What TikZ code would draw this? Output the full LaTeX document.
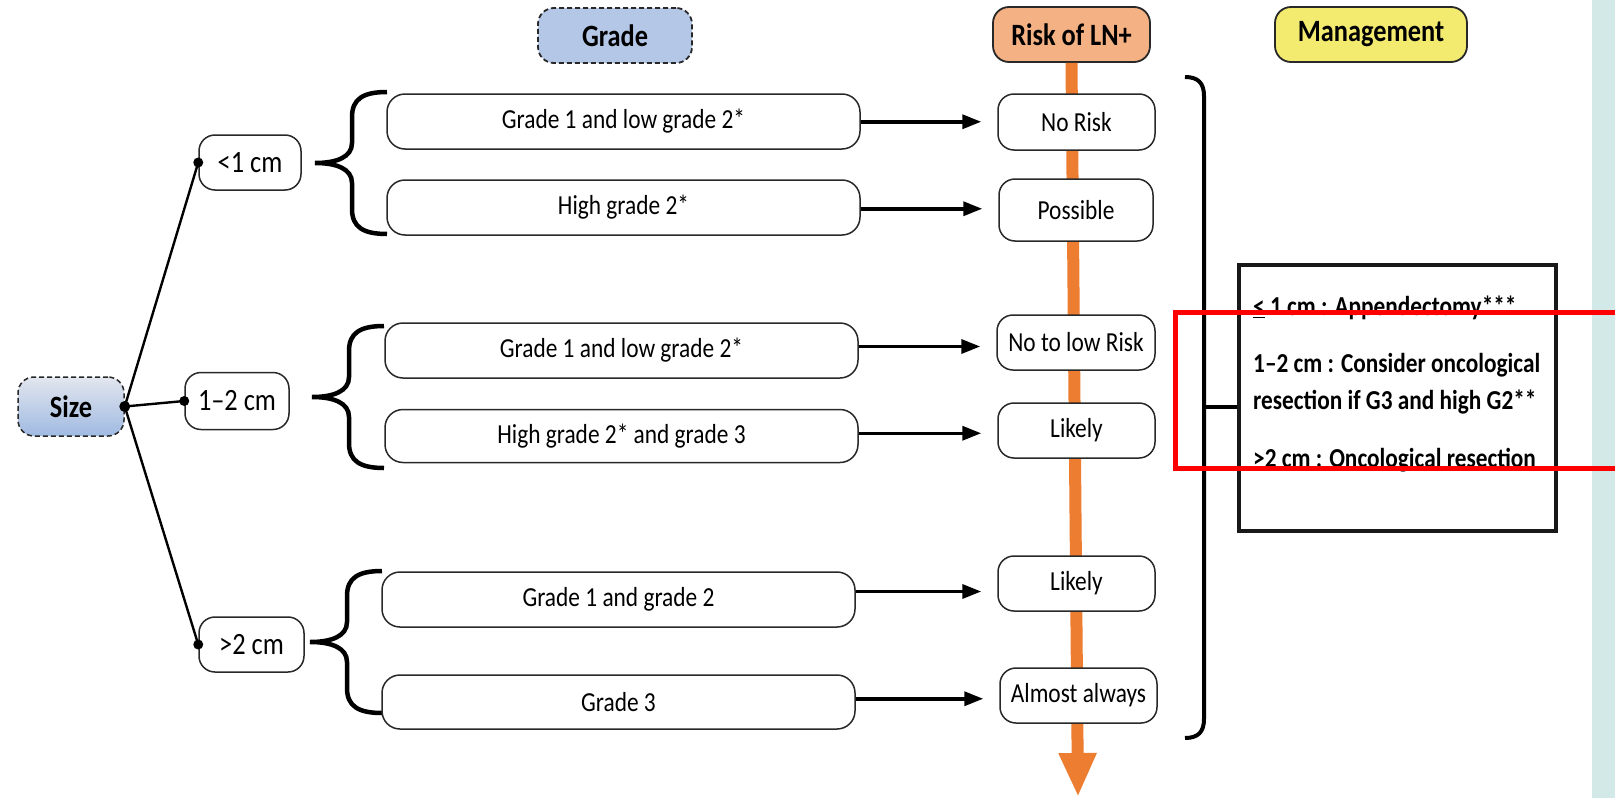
\documentclass[tikz,border=0pt]{standalone}
\usepackage{fontspec}
\setmainfont{Carlito}[FakeStretch=0.85]
\usetikzlibrary{arrows.meta,calc}
\definecolor{gradefill}{RGB}{180,199,231}
\definecolor{riskfill}{RGB}{244,177,131}
\definecolor{mgmtfill}{RGB}{242,235,112}
\definecolor{lnorange}{RGB}{237,125,49}
\definecolor{tealbg}{RGB}{211,233,231}
\definecolor{sizetop}{RGB}{226,230,238}
\definecolor{sizebot}{RGB}{160,186,226}
\definecolor{edge}{RGB}{40,40,40}
\begin{document}
\begin{tikzpicture}[x=1pt,y=-1pt,
  every node/.style={inner sep=0pt, text=black},
  header/.style={draw=edge, line width=1.8pt, rounded corners=16pt, minimum height=55pt,
    font=\fontsize{31}{36}\selectfont\bfseries},
  dashedborder/.style={dash pattern=on 5pt off 3pt},
  sizebox/.style={draw=edge, line width=1.5pt, rounded corners=16pt, minimum height=55pt,
    fill=white, font=\fontsize{31}{36}\selectfont},
  gradebox/.style={draw=edge, line width=1.5pt, rounded corners=18pt, minimum width=473pt,
    minimum height=55pt, fill=white, font=\fontsize{27.5}{32}\selectfont},
  riskbox/.style={draw=edge, line width=1.5pt, rounded corners=16pt, minimum width=157pt,
    minimum height=56pt, fill=white, font=\fontsize{27.5}{32}\selectfont},
  mtext/.style={anchor=mid west, font=\fontsize{27.4}{32}\selectfont\bfseries},
  link/.style={line width=2.4pt},
  arr/.style={line width=3.5pt, -{Triangle[length=19pt,width=14pt]}, shorten >=16pt},
  lnarrow/.style={line width=12pt, draw=lnorange, -{Triangle[length=44pt,width=35pt]}},
  pics/lbrace/.style={code={
    \draw[line width=4.5pt] (72,-71) .. controls (48,-71) and (37,-64) .. (37,-46)
      -- (37,-20) .. controls (37,-6) and (22,0) .. (0,0)
      .. controls (22,0) and (37,6) .. (37,20) -- (37,46)
      .. controls (37,64) and (48,71) .. (72,71);
  }}
]
\useasboundingbox (0,0) rectangle (1615,798);
\fill[white] (0,0) rectangle (1615,798);
\fill[tealbg] (1592,0) rectangle (1615,798);

% headers
\node[header, dashedborder, fill=gradefill, minimum width=154pt] (gh) at (615,35.5) {Grade};
\node[header, fill=riskfill, minimum width=157pt] (rh) at (1071.5,34.5) {Risk of LN+};
\node[header, fill=mgmtfill, minimum width=192pt] (mh) at (1371,34.5) {Management};

% risk axis
\coordinate (rend) at (1078,797);
\draw[lnarrow] (rh.south) -- (rend);

% size column
\node[sizebox, dashedborder, top color=sizetop, bottom color=sizebot, minimum width=106pt,
  minimum height=59pt, font=\fontsize{31}{36}\selectfont\bfseries] (size) at (71,406.5) {Size};
\node[sizebox, minimum width=102pt] (s1) at (250,162.5) {<1 cm};
\node[sizebox, minimum width=104pt, minimum height=57pt] (s2) at (237,401) {1–2 cm};
\node[sizebox, minimum width=105pt] (s3) at (251.5,644.5) {>2 cm};

\draw[link] (size.east) -- (s1.west);
\draw[link] (size.east) -- (s2.west);
\draw[link] (size.east) -- (s3.west);
\fill (size.east) circle (5.5pt);
\fill (s1.west) circle (5pt);
\fill (s2.west) circle (5pt);
\fill (s3.west) circle (5pt);

% braces
\pic at (315,163) {lbrace};
\pic at (312,397) {lbrace};
\pic at (310,642) {lbrace};

% grade boxes
\node[gradebox] (g1) at (623.5,121.5) {Grade 1 and low grade 2*};
\node[gradebox] (g2) at (623.5,207.5) {High grade 2*};
\node[gradebox] (g3) at (621.5,350.5) {Grade 1 and low grade 2*};
\node[gradebox, minimum height=53pt] (g4) at (621.5,436) {High grade 2* and grade 3};
\node[gradebox] (g5) at (618.5,599.5) {Grade 1 and grade 2};
\node[gradebox, minimum height=54pt] (g6) at (618.5,702) {Grade 3};

% risk boxes
\node[riskbox] (r1) at (1076.5,122) {No Risk};
\node[riskbox, minimum width=154pt, minimum height=62pt] (r2) at (1076,210) {Possible};
\node[riskbox, minimum width=158pt, minimum height=55pt] (r3) at (1076,342.5) {No to low Risk};
\node[riskbox, minimum height=55pt] (r4) at (1076.5,430.5) {Likely};
\node[riskbox, minimum height=55pt] (r5) at (1076.5,583.5) {Likely};
\node[riskbox, minimum height=55pt] (r6) at (1078.5,695.5) {Almost always};

% arrows
\foreach \i in {1,...,6}{
  \coordinate (mid\i) at ($(g\i.center)!0.5!(r\i.center)$);
  \draw[arr] (g\i.east |- mid\i) -- (r\i.west |- mid\i);
}

% management
\node[draw=black!90, line width=4pt, minimum width=317pt, minimum height=266pt] (mg) at (1397.5,398) {};
\node[mtext] (m1) at (1253,313) {\underline{<} 1 cm : Appendectomy***};
\node[mtext] (m2) at (1253,370) {1–2 cm : Consider oncological};
\node[mtext] (m3) at (1253,407) {resection if G3 and high G2**};
\node[mtext] (m4) at (1253,465) {>2 cm : Oncological resection};

% right bracket
\coordinate (bk) at (1204,407);
\draw[line width=4pt] (1185,77) .. controls (1198,77) and (1204,83) .. (1204,96)
  -- (1204,719) .. controls (1204,732) and (1198,738) .. (1185,738);
\draw[line width=4pt] (bk) -- (bk -| mg.west);

% red annotation frame
\draw[red, line width=5pt] (1620,312) -- (1175,312) -- (1175,468) -- (1620,468);
\end{tikzpicture}
\end{document}
